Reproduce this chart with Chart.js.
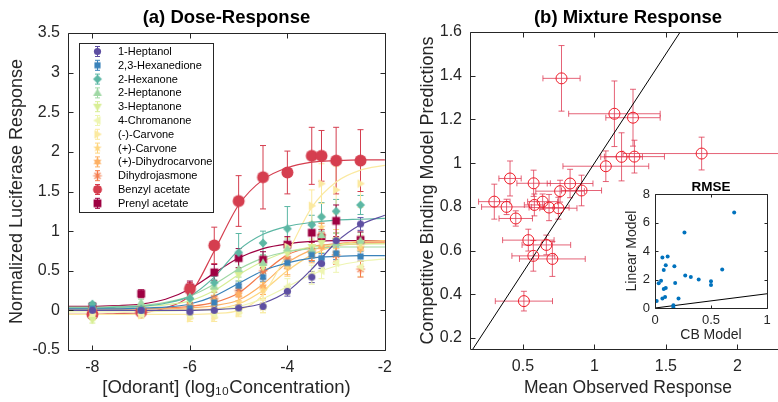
<!DOCTYPE html>
<html>
<head>
<meta charset="utf-8">
<script src="https://cdn.jsdelivr.net/npm/chart.js@4.4.0/dist/chart.umd.min.js"></script>
<style>
  html, body { margin: 0; padding: 0; background: #fff; width: 778px; height: 402px; overflow: hidden; }
  canvas { position: absolute; }
  #left { left: 0; top: 0; }
  #right { left: 400px; top: 0; }
  #inset { left: 600px; top: 176px; }
</style>
</head>
<body>
<canvas id="left" width="400" height="402"></canvas>
<canvas id="right" width="400" height="402"></canvas>
<canvas id="inset" width="178" height="172"></canvas>
<script>
// ---- (a) dose-response data ----
var CONC = [-8, -7, -6, -5.5, -5, -4.5, -4, -3.5, -3.3, -3, -2.5];
var FIT_CONC = [-8.5, -8, -7.5, -7, -6.5, -6, -5.5, -5, -4.5, -4, -3.5, -3, -2.5, -2];

var ODORANTS = ['1-Heptanol', '2,3-Hexanedione', '2-Hexanone', '2-Heptanone', '3-Heptanone', '4-Chromanone',
  '(-)-Carvone', '(+)-Carvone', '(+)-Dihydrocarvone', 'Dihydrojasmone', 'Benzyl acetate', 'Prenyl acetate'];
var COLORS = ['#5e4fa2', '#3a82ba', '#5cb7a4', '#9fd8a4', '#d8ee95', '#eef5b2',
  '#fbe9a0', '#fed67f', '#fdb063', '#f47a4b', '#d53e4f', '#9e0142'];
var SHAPES = ['circle', 'square', 'diamond', 'up', 'down', 'left', 'right', 'penta', 'hexa', 'aster', 'circle', 'square'];

var heptanol      = [0.0, 0.0, -0.02, 0.0, 0.03, 0.05, 0.24, 0.42, 0.59, 0.88, 1.09];
var heptanolErr   = [0.03, 0.03, 0.03, 0.03, 0.04, 0.04, 0.06, 0.07, 0.06, 0.1, 0.08];
var heptanolFit   = [0.0, 0.0, 0.0, 0.0, 0.0, 0.0, 0.01, 0.03, 0.09, 0.24, 0.52, 0.86, 1.08, 1.2];

var hexanedione    = [0.02, 0.0, 0.03, 0.1, 0.31, 0.42, 0.6, 0.7, 0.66, 0.72, 0.68];
var hexanedioneErr = [0.03, 0.03, 0.04, 0.05, 0.06, 0.06, 0.07, 0.08, 0.06, 0.08, 0.06];
var hexanedioneFit = [0.02, 0.02, 0.02, 0.03, 0.04, 0.08, 0.18, 0.34, 0.5, 0.6, 0.66, 0.68, 0.69, 0.69];

var hexanone    = [0.08, 0.02, 0.15, 0.35, 0.73, 0.85, 1.03, 1.08, 1.18, 1.25, 1.33];
var hexanoneErr = [0.02, 0.03, 0.05, 0.08, 0.24, 0.15, 0.28, 0.12, 0.18, 0.15, 0.12];
var hexanoneFit = [0.03, 0.03, 0.04, 0.05, 0.09, 0.18, 0.42, 0.76, 0.96, 1.06, 1.11, 1.14, 1.15, 1.16];

var heptanone2    = [0.05, 0.1, 0.17, 0.3, 0.52, 0.6, 0.78, 0.76, 0.95, 0.85, 0.88];
var heptanone2Err = [0.03, 0.04, 0.05, 0.07, 0.1, 0.1, 0.12, 0.1, 0.15, 0.12, 0.1];
var heptanone2Fit = [0.04, 0.04, 0.05, 0.06, 0.1, 0.18, 0.33, 0.52, 0.66, 0.74, 0.78, 0.8, 0.8, 0.8];

var heptanone3    = [-0.12, 0.0, 0.12, 0.25, 0.45, 0.55, 0.72, 0.8, 0.85, 0.88, 0.85];
var heptanone3Err = [0.04, 0.04, 0.05, 0.06, 0.08, 0.08, 0.1, 0.1, 0.12, 0.1, 0.1];
var heptanone3Fit = [0.03, 0.03, 0.04, 0.05, 0.07, 0.12, 0.25, 0.45, 0.62, 0.74, 0.8, 0.83, 0.84, 0.84];

var chromanone    = [-0.08, -0.05, -0.06, -0.05, 0.0, 0.05, 0.3, 0.45, 0.5, 0.6, 0.55];
var chromanoneErr = [0.04, 0.04, 0.04, 0.05, 0.06, 0.08, 0.1, 0.12, 0.1, 0.12, 0.12];
var chromanoneFit = [-0.02, -0.02, -0.02, -0.02, -0.01, 0.0, 0.01, 0.05, 0.15, 0.3, 0.45, 0.56, 0.62, 0.65];

var carvoneM    = [-0.05, -0.06, -0.1, -0.09, -0.03, 0.05, 0.8, 1.32, 1.6, 1.52, 1.6];
var carvoneMErr = [0.04, 0.04, 0.04, 0.05, 0.05, 0.08, 0.12, 0.2, 0.25, 0.3, 0.3];
var carvoneMFit = [-0.05, -0.05, -0.05, -0.05, -0.05, -0.05, -0.04, 0.0, 0.2, 0.72, 1.3, 1.62, 1.77, 1.83];

var carvoneP    = [0.0, 0.0, 0.0, 0.02, 0.1, 0.25, 0.55, 0.75, 1.05, 0.9, 0.8];
var carvonePErr = [0.03, 0.03, 0.04, 0.05, 0.08, 0.1, 0.12, 0.12, 0.15, 0.12, 0.12];
var carvonePFit = [0.0, 0.0, 0.0, 0.0, 0.0, 0.01, 0.02, 0.08, 0.25, 0.5, 0.7, 0.82, 0.87, 0.88];

var dihydrocarvone    = [0.02, 0.02, 0.05, 0.12, 0.2, 0.3, 0.55, 0.7, 0.8, 0.72, 0.78];
var dihydrocarvoneErr = [0.03, 0.03, 0.04, 0.06, 0.08, 0.1, 0.1, 0.1, 0.12, 0.1, 0.1];
var dihydrocarvoneFit = [0.02, 0.02, 0.02, 0.02, 0.02, 0.03, 0.06, 0.13, 0.33, 0.6, 0.76, 0.82, 0.84, 0.85];

var dihydrojasmone    = [0.02, 0.0, 0.05, 0.15, 0.25, 0.5, 0.65, 0.75, 0.95, 0.7, 0.52];
var dihydrojasmoneErr = [0.03, 0.03, 0.05, 0.08, 0.08, 0.1, 0.1, 0.12, 0.15, 0.12, 0.1];
var dihydrojasmoneFit = [0.02, 0.02, 0.02, 0.02, 0.03, 0.05, 0.1, 0.22, 0.47, 0.7, 0.8, 0.84, 0.86, 0.86];

var benzyl    = [-0.05, -0.02, 0.27, 0.82, 1.38, 1.68, 1.74, 1.95, 1.95, 1.89, 1.89];
var benzylErr = [0.03, 0.03, 0.08, 0.23, 0.32, 0.4, 0.27, 0.36, 0.32, 0.42, 0.39];
var benzylFit = [-0.05, -0.05, -0.04, -0.03, 0.03, 0.2, 0.75, 1.33, 1.65, 1.8, 1.87, 1.89, 1.9, 1.9];

var prenyl    = [0.05, 0.21, 0.29, 0.48, 0.66, 0.64, 0.83, 0.98, 0.92, 1.13, 0.89];
var prenylErr = [0.03, 0.05, 0.08, 0.1, 0.12, 0.1, 0.1, 0.12, 0.1, 0.2, 0.1];
var prenylFit = [0.05, 0.05, 0.06, 0.08, 0.14, 0.27, 0.47, 0.66, 0.78, 0.84, 0.87, 0.88, 0.88, 0.88];

var RESP = [heptanol, hexanedione, hexanone, heptanone2, heptanone3, chromanone, carvoneM, carvoneP, dihydrocarvone, dihydrojasmone, benzyl, prenyl];
var ERRS = [heptanolErr, hexanedioneErr, hexanoneErr, heptanone2Err, heptanone3Err, chromanoneErr, carvoneMErr, carvonePErr, dihydrocarvoneErr, dihydrojasmoneErr, benzylErr, prenylErr];
var FITS = [heptanolFit, hexanedioneFit, hexanoneFit, heptanone2Fit, heptanone3Fit, chromanoneFit, carvoneMFit, carvonePFit, dihydrocarvoneFit, dihydrojasmoneFit, benzylFit, prenylFit];

var A_X_TICKS = [-8, -6, -4, -2];
var A_Y_TICKS = [-0.5, 0, 0.5, 1, 1.5, 2, 2.5, 3, 3.5];

// ---- (b) mixture data ----
var observed    = [0.77, 1.14, 1.27, 1.75, 1.19, 1.28, 1.08, 0.41, 0.575, 0.83, 0.76, 0.91,
                   0.30, 0.386, 0.45, 0.58, 0.638, 0.683, 0.748, 0.538, 0.664, 0.573, 0.706, 0.507];
var observedErr = [0.13, 0.32, 0.19, 0.55, 0.146, 0.21, 0.30, 0.078, 0.117, 0.16, 0.17, 0.14,
                   0.11, 0.175, 0.117, 0.07, 0.105, 0.14, 0.13, 0.18, 0.17, 0.15, 0.23, 0.20];
var predicted    = [1.388, 1.226, 1.208, 1.044, 1.029, 1.03, 0.986, 0.93, 0.908, 0.907, 0.872, 0.875,
                    0.824, 0.80, 0.747, 0.809, 0.824, 0.797, 0.794, 0.648, 0.626, 0.576, 0.562, 0.369];
var predictedErr = [0.15, 0.15, 0.13, 0.075, 0.11, 0.075, 0.07, 0.08, 0.06, 0.065, 0.05, 0.07,
                    0.08, 0.035, 0.035, 0.05, 0.035, 0.06, 0.05, 0.05, 0.045, 0.07, 0.08, 0.045];
var B_X_TICKS = [0.5, 1, 1.5, 2];
var B_Y_TICKS = [0.2, 0.4, 0.6, 0.8, 1, 1.2, 1.4, 1.6];

// ---- inset RMSE ----
var rmseCB  = [0.707, 0.263, 0.066, 0.113, 0.096, 0.173, 0.078, 0.60, 0.27, 0.32, 0.39, 0.50,
               0.50, 0.054, 0.033, 0.18, 0.096, 0.078, 0.09, 0.066, 0.21, 0.015, 0.164, 0.164];
var rmseLin = [6.7, 5.3, 3.55, 3.62, 3.0, 2.93, 2.66, 2.7, 2.28, 2.18, 2.0, 1.88,
               1.62, 1.92, 1.74, 1.76, 1.41, 1.34, 0.77, 0.66, 0.66, 0.49, 0.19, 0.07];
var INSET_X_TICKS = [0, 0.5, 1];
var INSET_Y_TICKS = [0, 2, 4, 6, 8];

Chart.defaults.font.family = '"Liberation Sans", Arial, Helvetica, sans-serif';
Chart.defaults.color = '#262626';

function fmt(v) { return String(Math.round(v * 100) / 100); }

function makeMarker(kind, color, r) {
  var s = Math.ceil(r * 2 + 3);
  var c = document.createElement('canvas');
  c.width = s; c.height = s;
  var g = c.getContext('2d');
  var m = s / 2;
  g.fillStyle = color; g.strokeStyle = color; g.lineWidth = 1.2;
  function poly(pts) {
    g.beginPath();
    pts.forEach(function (p, i) { if (i) g.lineTo(m + p[0], m + p[1]); else g.moveTo(m + p[0], m + p[1]); });
    g.closePath(); g.fill();
  }
  function star(n, ro, ri) {
    var pts = [];
    for (var i = 0; i < n * 2; i++) {
      var a = -Math.PI / 2 + i * Math.PI / n, rr = i % 2 ? ri : ro;
      pts.push([rr * Math.cos(a), rr * Math.sin(a)]);
    }
    poly(pts);
  }
  if (kind === 'circle') { g.beginPath(); g.arc(m, m, r, 0, Math.PI * 2); g.fill(); }
  else if (kind === 'square') { g.fillRect(m - r * 0.85, m - r * 0.85, r * 1.7, r * 1.7); }
  else if (kind === 'diamond') poly([[0, -r], [r, 0], [0, r], [-r, 0]]);
  else if (kind === 'up') poly([[0, -r], [r, r * 0.7], [-r, r * 0.7]]);
  else if (kind === 'down') poly([[0, r], [r, -r * 0.7], [-r, -r * 0.7]]);
  else if (kind === 'left') poly([[-r, 0], [r * 0.7, -r], [r * 0.7, r]]);
  else if (kind === 'right') poly([[r, 0], [-r * 0.7, -r], [-r * 0.7, r]]);
  else if (kind === 'penta') star(5, r, r * 0.42);
  else if (kind === 'hexa') star(6, r, r * 0.58);
  else if (kind === 'aster') {
    g.beginPath();
    for (var i = 0; i < 4; i++) {
      var a = i * Math.PI / 4;
      g.moveTo(m - r * Math.cos(a), m - r * Math.sin(a));
      g.lineTo(m + r * Math.cos(a), m + r * Math.sin(a));
    }
    g.stroke();
  }
  return c;
}

var MARKERS = SHAPES.map(function (sh, i) {
  var r = i === 10 ? 6 : (i === 11 ? 4.6 : (sh === 'circle' || sh === 'square' ? 3.6 : 4.4));
  return makeMarker(sh, COLORS[i], r);
});

// draws vertical/horizontal error bars through the scales
var errorBars = {
  id: 'errorBars',
  beforeDatasetsDraw: function (chart) {
    var ctx = chart.ctx, a = chart.chartArea, xs = chart.scales.x, ys = chart.scales.y;
    ctx.save();
    ctx.beginPath(); ctx.rect(a.left, a.top, a.right - a.left, a.bottom - a.top); ctx.clip();
    chart.data.datasets.forEach(function (ds) {
      if (!ds.errY && !ds.errX) return;
      ctx.strokeStyle = ds.errColor; ctx.lineWidth = 1;
      var cap = ds.cap || 3;
      ctx.beginPath();
      ds.data.forEach(function (p, j) {
        var cx = xs.getPixelForValue(p.x), cy = ys.getPixelForValue(p.y);
        if (ds.errY) {
          var y1 = ys.getPixelForValue(p.y + ds.errY[j]), y2 = ys.getPixelForValue(p.y - ds.errY[j]);
          ctx.moveTo(cx, y1); ctx.lineTo(cx, y2);
          ctx.moveTo(cx - cap, y1); ctx.lineTo(cx + cap, y1);
          ctx.moveTo(cx - cap, y2); ctx.lineTo(cx + cap, y2);
        }
        if (ds.errX) {
          var x1 = xs.getPixelForValue(p.x - ds.errX[j]), x2 = xs.getPixelForValue(p.x + ds.errX[j]);
          ctx.moveTo(x1, cy); ctx.lineTo(x2, cy);
          ctx.moveTo(x1, cy - cap); ctx.lineTo(x1, cy + cap);
          ctx.moveTo(x2, cy - cap); ctx.lineTo(x2, cy + cap);
        }
      });
      ctx.stroke();
    });
    ctx.restore();
  }
};

// matlab-like box with inward ticks, white axes background, bold title
var frame = {
  id: 'frame',
  beforeDraw: function (chart, args, opts) {
    var a = chart.chartArea, ctx = chart.ctx;
    ctx.save(); ctx.fillStyle = '#fff';
    ctx.fillRect(a.left, a.top, a.right - a.left, a.bottom - a.top);
    ctx.restore();
  },
  afterDraw: function (chart, args, opts) {
    var ctx = chart.ctx, a = chart.chartArea, xs = chart.scales.x, ys = chart.scales.y;
    var tl = opts.tick || 5;
    var L = Math.round(a.left) + 0.5, R = Math.round(a.right) + 0.5, T = Math.round(a.top) + 0.5, B = Math.round(a.bottom) + 0.5;
    ctx.save();
    ctx.strokeStyle = '#262626'; ctx.lineWidth = 1;
    ctx.beginPath();
    ctx.moveTo(L, T); ctx.lineTo(R, T); ctx.lineTo(R, B); ctx.lineTo(L, B); ctx.closePath();
    xs.ticks.forEach(function (t) {
      var px = Math.round(xs.getPixelForValue(t.value)) + 0.5;
      ctx.moveTo(px, B); ctx.lineTo(px, B - tl);
      ctx.moveTo(px, T); ctx.lineTo(px, T + tl);
    });
    ys.ticks.forEach(function (t) {
      var py = Math.round(ys.getPixelForValue(t.value)) + 0.5;
      ctx.moveTo(L, py); ctx.lineTo(L + tl, py);
      ctx.moveTo(R, py); ctx.lineTo(R - tl, py);
    });
    ctx.stroke();
    if (opts.title) {
      ctx.fillStyle = '#000';
      ctx.font = 'bold ' + opts.size + 'px "Liberation Sans", Arial, sans-serif';
      ctx.textAlign = 'center'; ctx.textBaseline = 'middle';
      ctx.fillText(opts.title, (a.left + a.right) / 2, a.top - opts.offset);
    }
    ctx.restore();
  }
};

// legend box inside panel (a)
var doseLegend = {
  id: 'doseLegend',
  afterDraw: function (chart) {
    var ctx = chart.ctx;
    ctx.save();
    ctx.fillStyle = '#fff'; ctx.fillRect(79.5, 43.5, 134, 169);
    ctx.strokeStyle = '#262626'; ctx.lineWidth = 1; ctx.strokeRect(79.5, 43.5, 134, 169);
    ctx.font = '11px "Liberation Sans", Arial, sans-serif';
    ctx.textAlign = 'left'; ctx.textBaseline = 'middle';
    ODORANTS.forEach(function (name, i) {
      var y = 51.5 + i * 13.8, x = 97.5;
      ctx.strokeStyle = COLORS[i];
      ctx.beginPath();
      ctx.moveTo(x, y - 5); ctx.lineTo(x, y + 5);
      ctx.moveTo(x - 2.5, y - 5); ctx.lineTo(x + 2.5, y - 5);
      ctx.moveTo(x - 2.5, y + 5); ctx.lineTo(x + 2.5, y + 5);
      ctx.stroke();
      var mk = MARKERS[i];
      var sc = i === 10 ? 0.75 : 1;
      ctx.drawImage(mk, x - mk.width * sc / 2, y - mk.height * sc / 2, mk.width * sc, mk.height * sc);
      ctx.fillStyle = '#000';
      ctx.fillText(name, 118, y + 0.5);
    });
    ctx.restore();
  }
};

function fixedTicks(list) {
  return function (s) { s.ticks = list.map(function (v) { return { value: v }; }); };
}

// ---- panel (a) ----
var doseSets = [];
ODORANTS.forEach(function (name, i) {
  doseSets.push({
    type: 'scatter', label: name, order: 0,
    data: CONC.map(function (x, j) { return { x: x, y: RESP[i][j] }; }),
    errY: ERRS[i], errColor: COLORS[i], cap: 3,
    pointStyle: MARKERS[i], pointRadius: 4
  });
});
ODORANTS.forEach(function (name, i) {
  doseSets.push({
    type: 'line', label: name + ' fit', order: 1,
    data: FIT_CONC.map(function (x, j) { return { x: x, y: FITS[i][j] }; }),
    borderColor: COLORS[i], borderWidth: 1.2, pointRadius: 0,
    cubicInterpolationMode: 'monotone', fill: false
  });
});

new Chart(document.getElementById('left'), {
  type: 'scatter',
  data: { datasets: doseSets },
  options: {
    responsive: false, animation: false, devicePixelRatio: 1,
    layout: { padding: { top: 33, right: 15, left: 0, bottom: 0 } },
    plugins: {
      legend: { display: false }, tooltip: { enabled: false },
      frame: { title: '(a) Dose-Response', size: 18.5, offset: 15, tick: 5 }
    },
    scales: {
      x: {
        type: 'linear', min: -8.5, max: -2,
        grid: { display: false, drawTicks: false }, border: { display: false },
        afterBuildTicks: fixedTicks(A_X_TICKS),
        afterFit: function (s) { s.height = 52; },
        ticks: { padding: 8, font: { size: 16 }, callback: fmt },
        title: { display: true, text: '[Odorant] (log\u2081\u2080Concentration)', font: { size: 18.5 }, padding: { top: 0, bottom: 2.9 } }
      },
      y: {
        type: 'linear', min: -0.5, max: 3.5,
        grid: { display: false, drawTicks: false }, border: { display: false },
        afterBuildTicks: fixedTicks(A_Y_TICKS),
        afterFit: function (s) { s.width = 68; },
        ticks: { padding: 8, font: { size: 16 }, callback: fmt },
        title: { display: true, text: 'Normalized Luciferase Response', font: { size: 18 }, padding: { top: 6.2, bottom: 0 } }
      }
    }
  },
  plugins: [errorBars, frame, doseLegend]
});

// ---- panel (b) ----
new Chart(document.getElementById('right'), {
  type: 'scatter',
  data: {
    datasets: [
      {
        label: 'mixtures', order: 0,
        data: observed.map(function (x, j) { return { x: x, y: predicted[j] }; }),
        errX: observedErr, errY: predictedErr, errColor: 'rgba(222,60,85,0.8)', cap: 3,
        pointStyle: 'circle', pointRadius: 5.5, borderColor: '#f01c28', borderWidth: 1,
        backgroundColor: 'rgba(0,0,0,0)'
      },
      {
        type: 'line', label: 'identity', order: 1,
        data: [{ x: 0.13, y: 0.13 }, { x: 1.7, y: 1.7 }],
        borderColor: '#000', borderWidth: 1, pointRadius: 0
      }
    ]
  },
  options: {
    responsive: false, animation: false, devicePixelRatio: 1,
    layout: { padding: { top: 32, right: 14, left: 0, bottom: 0 } },
    plugins: {
      legend: { display: false }, tooltip: { enabled: false },
      frame: { title: '(b) Mixture Response', size: 18.5, offset: 14, tick: 5 }
    },
    scales: {
      x: {
        type: 'linear', min: 0.13, max: 2.34,
        grid: { display: false, drawTicks: false }, border: { display: false },
        afterBuildTicks: fixedTicks(B_X_TICKS),
        afterFit: function (s) { s.height = 53; },
        ticks: { padding: 8, font: { size: 16 }, callback: fmt },
        title: { display: true, text: 'Mean Observed Response', font: { size: 17.5 }, padding: { top: 0, bottom: 3.5 } }
      },
      y: {
        type: 'linear', min: 0.15, max: 1.6,
        grid: { display: false, drawTicks: false }, border: { display: false },
        afterBuildTicks: fixedTicks(B_Y_TICKS),
        afterFit: function (s) { s.width = 70; },
        ticks: { padding: 8, font: { size: 16 }, callback: fmt },
        title: { display: true, text: 'Competitive Binding Model Predictions', font: { size: 18 }, padding: { top: 17.2, bottom: 0 } }
      }
    }
  },
  plugins: [errorBars, frame]
});

// ---- inset RMSE ----
new Chart(document.getElementById('inset'), {
  type: 'scatter',
  data: {
    datasets: [
      {
        label: 'RMSE', order: 0,
        data: rmseCB.map(function (x, j) { return { x: x, y: rmseLin[j] }; }),
        pointStyle: 'circle', pointRadius: 2, borderWidth: 0,
        backgroundColor: '#0072bd', borderColor: '#0072bd'
      },
      {
        type: 'line', label: 'identity', order: 1,
        data: [{ x: 0, y: 0 }, { x: 1, y: 1 }],
        borderColor: '#000', borderWidth: 1, pointRadius: 0
      }
    ]
  },
  options: {
    responsive: false, animation: false, devicePixelRatio: 1,
    layout: { padding: { top: 18, right: 11, left: 0, bottom: 0 } },
    plugins: {
      legend: { display: false }, tooltip: { enabled: false },
      frame: { title: 'RMSE', size: 13.5, offset: 7, tick: 3 }
    },
    scales: {
      x: {
        type: 'linear', min: 0, max: 1,
        grid: { display: false, drawTicks: false }, border: { display: false },
        afterBuildTicks: fixedTicks(INSET_X_TICKS),
        afterFit: function (s) { s.height = 40; },
        ticks: { padding: 5, font: { size: 13 }, callback: fmt },
        title: { display: true, text: 'CB Model', font: { size: 14 }, padding: { top: 0, bottom: 4.6 } }
      },
      y: {
        type: 'linear', min: 0, max: 8,
        grid: { display: false, drawTicks: false }, border: { display: false },
        afterBuildTicks: fixedTicks(INSET_Y_TICKS),
        afterFit: function (s) { s.width = 55; },
        ticks: { padding: 5, font: { size: 13 }, callback: fmt },
        title: { display: true, text: 'Linear Model', font: { size: 14 }, padding: { top: 23.6, bottom: 0 } }
      }
    }
  },
  plugins: [frame]
});
</script>
</body>
</html>
